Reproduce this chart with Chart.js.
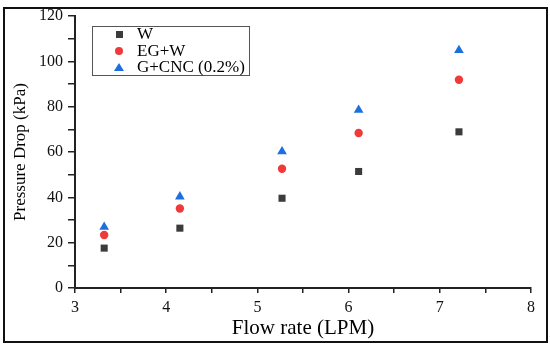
<!DOCTYPE html>
<html>
<head>
<meta charset="utf-8">
<script src="https://cdn.jsdelivr.net/npm/chart.js@4.4.1/dist/chart.umd.min.js"></script>
<style>
  html, body { margin: 0; padding: 0; background: #fff; }
  #wrap { position: relative; width: 550px; height: 347px; }
  #frame {
    position: absolute; left: 3px; top: 7px; width: 541px; height: 332px;
    border: 2px solid #111; pointer-events: none;
  }
  #legend {
    position: absolute; left: 92px; top: 26px; width: 156px; height: 48px;
    border: 1.5px solid #555; font-family: "Liberation Serif", "Times New Roman", serif;
    font-size: 17px; color: #000;
  }
  .row { position: absolute; left: 0; height: 16px; line-height: 16px; }
  .row span.txt { position: absolute; left: 44px; white-space: nowrap; }
  .mk { position: absolute; }
</style>
</head>
<body>
<div id="wrap">
  <canvas id="chart" width="550" height="347"></canvas>
  <div id="legend"></div>
  <div id="frame"></div>
</div>
<script>
// flow rate (LPM)
const flowRate = [3.32, 4.15, 5.27, 6.11, 7.21];

// pressure drop (kPa)
const water   = [17.6, 26.4, 39.6, 51.4, 68.9];
const egWater = [23.4, 35.1, 52.6, 68.4, 91.9];
const gCnc    = [26.9, 40.3, 60.2, 78.5, 104.9];

const seriesNames  = ['W', 'EG+W', 'G+CNC (0.2%)'];
const seriesColors = ['#3b3b3b', '#f03a3a', '#1c6fe0'];
const seriesShapes = ['rect', 'circle', 'triangle'];

const serif = '"Liberation Serif", "Times New Roman", serif';

function pts(ys) {
  return flowRate.map((x, i) => ({ x: x, y: ys[i] }));
}

const seriesData = [water, egWater, gCnc];

// html legend
const legendEl = document.getElementById('legend');
seriesNames.forEach((name, i) => {
  const row = document.createElement('div');
  row.className = 'row';
  row.style.top = (-1 + i * 16.5) + 'px';
  row.style.width = '100%';
  const mk = document.createElement('div');
  mk.className = 'mk';
  if (seriesShapes[i] === 'rect') {
    mk.style.cssText = 'left:23px;top:5px;width:7px;height:7px;background:' + seriesColors[i];
  } else if (seriesShapes[i] === 'circle') {
    mk.style.cssText = 'left:22px;top:4px;width:8px;height:8px;border-radius:50%;background:' + seriesColors[i];
  } else {
    mk.style.cssText = 'left:21px;top:4px;width:0;height:0;border-left:5px solid transparent;' +
      'border-right:5px solid transparent;border-bottom:8px solid ' + seriesColors[i];
  }
  const t = document.createElement('span');
  t.className = 'txt';
  t.textContent = name;
  row.appendChild(mk);
  row.appendChild(t);
  legendEl.appendChild(row);
});

const datasets = seriesData.map((ys, i) => ({
  label: seriesNames[i],
  data: pts(ys),
  pointStyle: seriesShapes[i],
  pointRadius: seriesShapes[i] === 'rect' ? 5 : (seriesShapes[i] === 'circle' ? 4.2 : 5.6),
  backgroundColor: seriesColors[i],
  borderColor: seriesColors[i],
  borderWidth: 0,
  showLine: false
}));

new Chart(document.getElementById('chart'), {
  type: 'scatter',
  data: { datasets },
  options: {
    responsive: false,
    animation: false,
    layout: { padding: { left: 0, right: 19, top: 16, bottom: 0 } },
    plugins: { legend: { display: false }, tooltip: { enabled: false } },
    scales: {
      x: {
        min: 3, max: 8,
        afterFit: s => { s.height = 59; },
        border: { display: true, color: '#222', width: 2 },
        grid: { display: true, drawOnChartArea: false, color: '#222', tickLength: 5, lineWidth: 1.5 },
        ticks: {
          stepSize: 0.5, color: '#111', padding: 5, maxRotation: 0, autoSkip: false,
          font: { family: serif, size: 16 },
          callback: v => (Number.isInteger(v) ? v : '')
        },
        title: {
          display: true, text: 'Flow rate (LPM)', color: '#000',
          font: { family: serif, size: 21 }, padding: { top: 4, bottom: 6 }
        }
      },
      y: {
        min: 0, max: 120,
        afterFit: s => { s.width = 75; },
        border: { display: true, color: '#222', width: 2 },
        grid: { display: true, drawOnChartArea: false, color: '#222', tickLength: 7, lineWidth: 1.5 },
        ticks: {
          stepSize: 10, color: '#111', padding: 5, autoSkip: false,
          font: { family: serif, size: 16 },
          callback: v => (v % 20 === 0 ? v : '')
        },
        title: {
          display: true, text: 'Pressure Drop (kPa)', color: '#000',
          font: { family: serif, size: 17 }, padding: { top: 10, bottom: 0 }
        }
      }
    }
  }
});
</script>
</body>
</html>
